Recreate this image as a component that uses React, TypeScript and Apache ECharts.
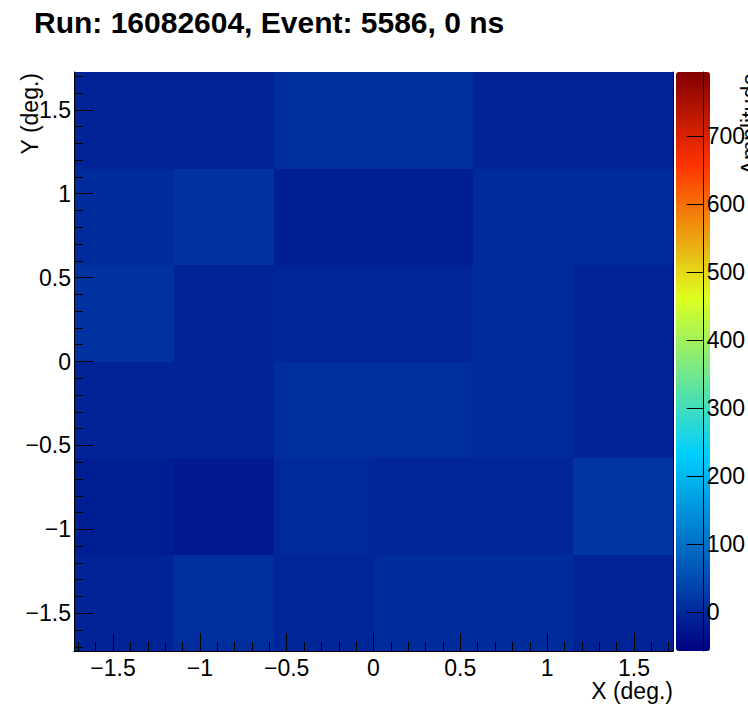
import React, { useEffect, useRef } from 'react';
import * as echarts from 'echarts';

const TITLE = 'Run: 16082604, Event: 5586, 0 ns';
const X_TITLE = 'X (deg.)';
const Y_TITLE = 'Y (deg.)';
const Z_TITLE = 'Amplitude';

// bin centres (deg.) and bin width
const X_CENTERS = [-1.4375, -0.8625, -0.2875, 0.2875, 0.8625, 1.4375];
const Y_CENTERS = [1.4375, 0.8625, 0.2875, -0.2875, -0.8625, -1.4375];
const BIN = 0.575;
const AXIS_MIN = -1.725;
const AXIS_MAX = 1.725;

// amplitudes, one row per Y bin (top to bottom), columns left to right
const ROW_Y1 = [-6, -6, 7, 7, -6, -6];
const ROW_Y2 = [2, 14, -15, -15, 2, 2];
const ROW_Y3 = [14, -6, -4, -4, 2, -6];
const ROW_Y4 = [-6, -6, 7, 7, 2, -6];
const ROW_Y5 = [-15, -22, 0, -4, -4, 18];
const ROW_Y6 = [-6, 7, -3, 2, 2, -6];
const ROWS = [ROW_Y1, ROW_Y2, ROW_Y3, ROW_Y4, ROW_Y5, ROW_Y6];

const XY_MAJOR = [-1.5, -1, -0.5, 0, 0.5, 1, 1.5];
const Z_TICKS = [0, 100, 200, 300, 400, 500, 600, 700];
const Z_MIN = -57;
const Z_MAX = 794;

// palette stops (ROOT style rainbow)
const P_STOPS = [0, 0.34, 0.61, 0.84, 1];
const P_RED = [0, 0, 0.87, 1, 0.51];
const P_GREEN = [0, 0.81, 1, 0.2, 0];
const P_BLUE = [0.51, 1, 0.12, 0, 0];

const FONT = '"Liberation Sans", Arial, Helvetica, sans-serif';

function paletteAt(t: number): string {
  let i = 0;
  while (i < P_STOPS.length - 2 && t > P_STOPS[i + 1]) i++;
  const f = (t - P_STOPS[i]) / (P_STOPS[i + 1] - P_STOPS[i]);
  const c = (a: number[]) => Math.round((a[i] + (a[i + 1] - a[i]) * f) * 255);
  return `rgb(${c(P_RED)},${c(P_GREEN)},${c(P_BLUE)})`;
}

function minorTicks(): number[] {
  const out: number[] = [];
  for (let k = -17; k <= 17; k++) {
    if (k % 5 !== 0) out.push(k / 10);
  }
  return out;
}

const fmt = (v: number) => (v < 0 ? '\u2212' + String(Math.abs(v)) : String(v));

export default function App() {
  const ref = useRef<HTMLDivElement>(null);
  useEffect(() => {
    if (!ref.current) return;
    const chart = echarts.init(ref.current, null, { renderer: 'svg' });
    const data: number[][] = [];
    ROWS.forEach((row, j) => row.forEach((v, i) => data.push([X_CENTERS[i], Y_CENTERS[j], v])));
    const colors: string[] = [];
    for (let k = 0; k <= 100; k++) colors.push(paletteAt(k / 100));
    const minors = minorTicks();
    const lineStyle = { color: '#000', width: 1 };
    const baseAxis = {
      type: 'value',
      min: AXIS_MIN,
      max: AXIS_MAX,
      z: 10,
      splitLine: { show: false },
    };

    const option: any = {
      animation: false,
      backgroundColor: '#fff',
      textStyle: { fontFamily: FONT },
      grid: [
        { left: 74, top: 72, width: 599, height: 579 },
        { left: 676, top: 72, width: 34, height: 579 },
      ],
      xAxis: [
        {
          ...baseAxis,
          gridIndex: 0,
          position: 'bottom',
          axisLine: { show: true, onZero: false, lineStyle },
          axisTick: { show: true, inside: true, length: 18, customValues: XY_MAJOR, lineStyle },
          axisLabel: {
            show: true, customValues: XY_MAJOR, formatter: fmt, margin: 5,
            fontSize: 23, color: '#000', fontFamily: FONT,
          },
        },
        {
          ...baseAxis,
          gridIndex: 0,
          position: 'bottom',
          offset: 0,
          axisLine: { show: false, onZero: false },
          axisTick: { show: true, inside: true, length: 9, customValues: minors, lineStyle },
          axisLabel: { show: false },
        },
        { type: 'value', gridIndex: 1, min: 0, max: 1, show: false },
      ],
      yAxis: [
        {
          ...baseAxis,
          gridIndex: 0,
          position: 'left',
          axisLine: { show: true, onZero: false, lineStyle },
          axisTick: { show: true, inside: true, length: 19, customValues: XY_MAJOR, lineStyle },
          axisLabel: {
            show: true, customValues: XY_MAJOR, formatter: fmt, margin: 3,
            fontSize: 23, color: '#000', fontFamily: FONT,
          },
        },
        {
          ...baseAxis,
          gridIndex: 0,
          position: 'left',
          offset: 0,
          axisLine: { show: false, onZero: false },
          axisTick: { show: true, inside: true, length: 9, customValues: minors, lineStyle },
          axisLabel: { show: false },
        },
        {
          ...baseAxis,
          gridIndex: 0,
          position: 'right',
          offset: 0,
          axisLine: { show: true, onZero: false, lineStyle },
          axisTick: { show: false },
          axisLabel: { show: false },
        },
        {
          type: 'value',
          gridIndex: 1,
          min: Z_MIN,
          max: Z_MAX,
          z: 10,
          position: 'right',
          splitLine: { show: false },
          axisLine: { show: true, onZero: false, lineStyle },
          axisTick: { show: true, inside: true, length: 17, customValues: Z_TICKS, lineStyle },
          axisLabel: {
            show: true, customValues: Z_TICKS, margin: 3,
            fontSize: 23, color: '#000', fontFamily: FONT,
          },
        },
      ],
      visualMap: {
        type: 'continuous',
        min: Z_MIN,
        max: Z_MAX,
        dimension: 2,
        seriesIndex: 0,
        calculable: false,
        hoverLink: false,
        orient: 'vertical',
        left: 676,
        top: 72,
        itemWidth: 34,
        itemHeight: 579,
        padding: 0,
        borderRadius: 0,
        text: null,
        inRange: { color: colors },
      },
      series: [
        {
          type: 'custom',
          xAxisIndex: 0,
          yAxisIndex: 0,
          data,
          clip: true,
          renderItem: (params: any, api: any) => {
            const x = api.value(0);
            const y = api.value(1);
            const p0 = api.coord([x - BIN / 2, y + BIN / 2]);
            const p1 = api.coord([x + BIN / 2, y - BIN / 2]);
            const x0 = Math.round(p0[0]);
            const y0 = Math.round(p0[1]);
            const x1 = Math.round(p1[0]);
            const y1 = Math.round(p1[1]);
            return {
              type: 'rect',
              shape: { x: x0, y: y0, width: x1 - x0, height: y1 - y0 },
              style: { fill: api.visual('color'), stroke: null },
            };
          },
        },
      ],
      graphic: [
        {
          type: 'text', left: 34, top: 7,
          style: { text: TITLE, font: `bold 30px ${FONT}`, fill: '#000' },
        },
        {
          type: 'text', x: 673, y: 691,
          style: { text: X_TITLE, font: `23px ${FONT}`, fill: '#000', textAlign: 'right', textVerticalAlign: 'middle' },
        },
        {
          type: 'text', x: 18, y: 73, rotation: Math.PI / 2,
          style: { text: Y_TITLE, font: `23px ${FONT}`, fill: '#000', textAlign: 'right', textVerticalAlign: 'top' },
        },
        {
          type: 'text', x: 738, y: 73, rotation: Math.PI / 2,
          style: { text: Z_TITLE, font: `23px ${FONT}`, fill: '#000', textAlign: 'right', textVerticalAlign: 'top' },
        },
      ],
    };
    chart.setOption(option);
    return () => chart.dispose();
  }, []);
  return (
    <div
      ref={ref}
      style={{ position: 'fixed', left: 0, top: 0, width: 748, height: 724, background: '#fff' }}
    />
  );
}
